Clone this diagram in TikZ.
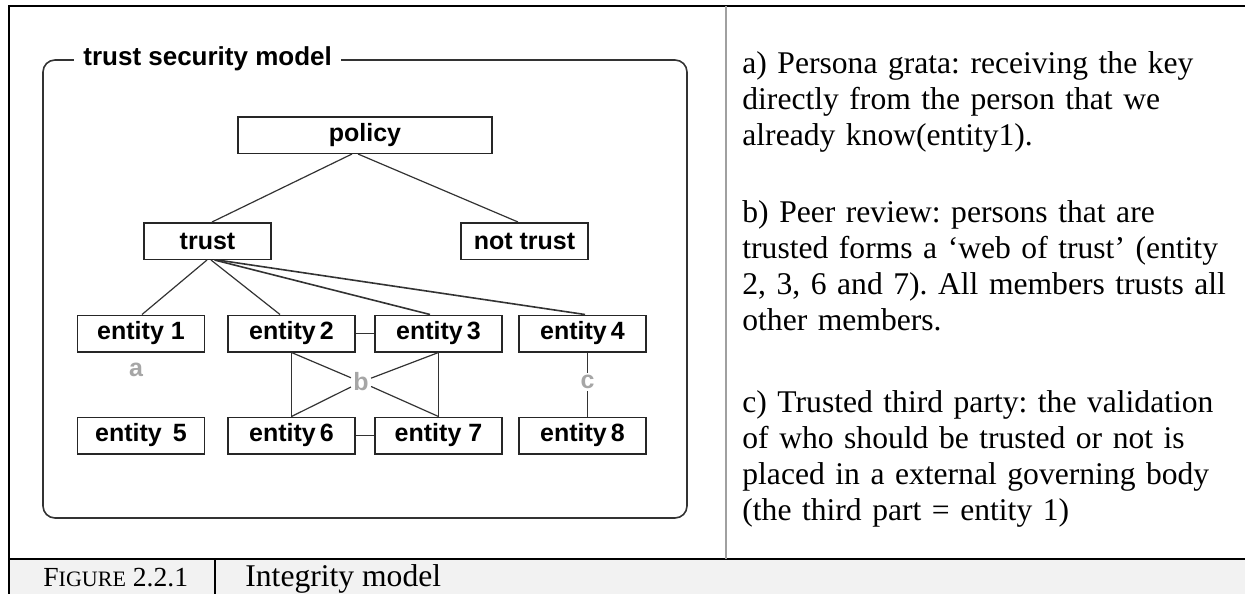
\documentclass[tikz,border=0pt]{standalone}
\usepackage{fontspec}
\setmainfont{Liberation Serif}
\newfontfamily\diagfont{Liberation Sans}
\usetikzlibrary{calc}
\frenchspacing

\definecolor{capfill}{HTML}{F2F2F2}
\definecolor{labelgray}{HTML}{A6A6A6}
\definecolor{divgray}{HTML}{A0A0A0}

\tikzset{
  ent/.style={draw=black!85, line width=0.75pt, fill=white, inner sep=0pt,
    minimum width=63.5pt, minimum height=18.25pt,
    font=\diagfont\bfseries\fontsize{12.5}{14}\selectfont},
  wideent/.style={ent, minimum width=127pt},
  link/.style={draw=black!80, line width=0.6pt},
  tag/.style={text=labelgray, inner sep=1pt,
    font=\diagfont\bfseries\fontsize{12.5}{14}\selectfont},
  para/.style={anchor=base west, inner sep=0pt, text width=260pt, align=left,
    font=\fontsize{15.8}{18}\selectfont},
  frame/.style={line width=1.2pt, draw=black}
}

\begin{document}
\begin{tikzpicture}[x=0.5pt, y=-0.5pt]
\useasboundingbox (0,0) rectangle (1245,594);

% page table: caption row, outer rules and the column divider
\fill[capfill] (9,559) rectangle (1245,594);
\draw[frame] (1245,6) -- (9,6) -- (9,594);
\draw[frame] (9,559) -- (1245,559);
\draw[line width=0.6pt] (215,559) -- (215,594);
\draw[divgray, line width=1pt] (726,6) -- (726,559);

% group frame with its title
\draw[draw=black!80, line width=0.8pt, rounded corners=6pt] (43,60) rectangle (687,518);
\node[anchor=base west, fill=white, inner xsep=4.5pt, inner ysep=2pt,
  font=\diagfont\bfseries\fontsize{13}{15}\selectfont] (title) at (74,65) {trust security model};

% tree of boxes
\node[wideent] (policy) at (365,135) {policy};
\node[ent] (trust) at (207.5,241) {trust};
\node[ent] (nottrust) at (524.5,241) {not trust};

\node[ent] (e1) at (141,333.5) {entity 1};
\node[ent] (e2) at (291.5,333.5) {entity\,2};
\node[ent] (e3) at (438.5,333.5) {entity\,3};
\node[ent] (e4) at (582.5,333.5) {entity\,4};
\node[ent] (e5) at (141,435.5) {entity\, 5};
\node[ent] (e6) at (291.5,435.5) {entity\,6};
\node[ent] (e7) at (438.5,435.5) {entity 7};
\node[ent] (e8) at (582.5,435.5) {entity\,8};

% group letters
\node[tag] (la) at (136,370) {a};
\node[tag] (lb) at (361,382) {b};
\node[tag] (lc) at (587.5,382) {c};

% policy branches
\draw[link] ($(policy.south)+(-13,0)$) -- ($(trust.north)+(4.5,0)$);
\draw[link] ($(policy.south)+(-7,0)$) -- ($(nottrust.north)+(-6.5,0)$);

% trust fan-out
\draw[link] ($(trust.south)+(-0.5,0)$) -- ($(e1.north)+(1,0)$);
\draw[link] ($(trust.south)+(3.5,0)$) -- ($(e2.north)+(-11.5,0)$);
\draw[link, line width=0.8pt] ($(trust.south)+(7,0)$) -- ($(e3.north)+(-8.5,0)$);
\draw[link, line width=0.8pt] ($(trust.south)+(10,0)$) -- ($(e4.north)+(2.5,0)$);

% web of trust
\draw[link] (e2.east) -- (e3.west);
\draw[link] (e6.east) -- (e7.west);
\draw[link] (e2.south) -- (e6.north);
\draw[link] (e3.south) -- (e7.north);
\draw[link] (e2.south) -- (lb);
\draw[link] (e6.north) -- (lb);
\draw[link] (e3.south) -- (lb);
\draw[link] (e7.north) -- (lb);

% trusted third party
\draw[link] ($(e4.south)+(5,0)$) -- (lc.north);
\draw[link] (lc.south) -- ($(e8.north)+(5,0)$);

% explanations
\node[para] (ta) at (742,73) {a) Persona grata: receiving the key\\
directly from the person that we\\
already know(entity1).};
\node[para] (tb) at (742,222) {b) Peer review: persons that are\\
trusted forms a ‘web of trust’ (entity\\
2, 3, 6 and 7). All members trusts all\\
other members.};
\node[para] (tc) at (742,412) {c) Trusted third party: the validation\\
of who should be trusted or not is\\
placed in a external governing body\\
(the third part = entity 1)};

% caption
\node[anchor=base west, inner sep=0pt, font=\fontsize{13.8}{15}\selectfont] (figno) at (43,586)
  {F{\fontsize{11}{12}\selectfont IGURE} 2.2.1};
\node[anchor=base west, inner sep=0pt, font=\fontsize{15.8}{18}\selectfont] (figname) at (245,586)
  {Integrity model};
\end{tikzpicture}
\end{document}
